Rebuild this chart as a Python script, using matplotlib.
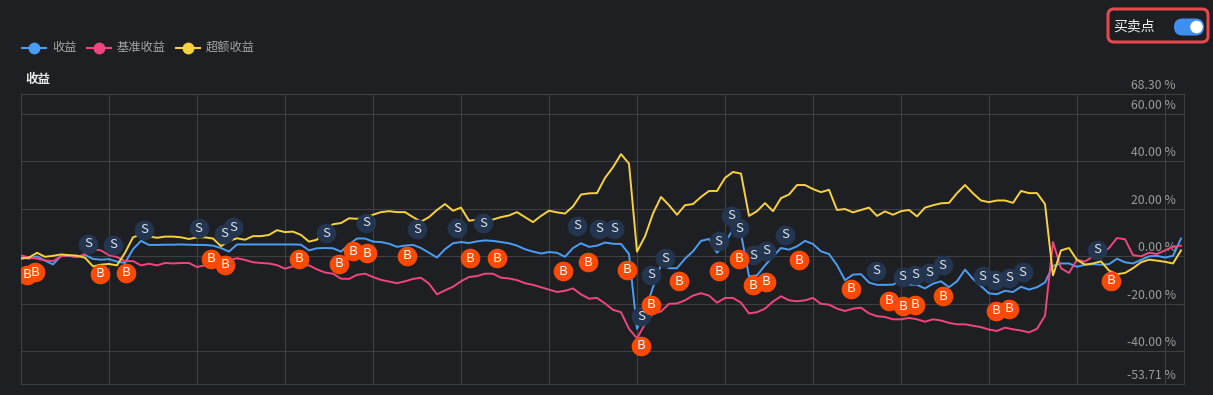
import numpy as np
import matplotlib
matplotlib.use("Agg")
import matplotlib.pyplot as plt
from matplotlib.patches import FancyBboxPatch, Circle
from matplotlib.lines import Line2D
from matplotlib.transforms import IdentityTransform

plt.rcParams['font.family'] = ['Noto Sans CJK SC', 'DejaVu Sans']

W, H = 1213, 395
BG = "#1e1f22"
GRID = "#3e3f43"
C_RET = "#4a9ef5"
C_BENCH = "#f0457e"
C_EXCESS = "#f7d23e"
C_BUY = "#fc4a04"
C_SELL = "#243550"

# 收益 (strategy return, %)
ret = [-0.3, -1.0, 0.0, -1.8, -3.4, 0.2, 0.2, -0.3, 0.6, -1.1,
       -1.4, -1.2, -2.2, -2.8, 3.0, 6.5, 4.8, 4.8, 4.9, 4.9,
       5.0, 4.9, 4.8, 4.8, 4.5, 3.5, 2.0, 5.0, 5.0, 5.0,
       5.0, 5.0, 5.0, 5.0, 5.0, 4.9, 2.5, 3.4, 3.5, 3.4,
       2.0, 5.0, 7.5, 7.5, 6.2, 6.0, 5.3, 4.0, 4.5, 4.8,
       3.5, 1.5, -0.5, 3.0, 5.5, 6.0, 5.6, 6.3, 6.7, 6.5,
       6.0, 5.5, 4.5, 3.0, 2.0, 1.2, 1.8, 1.5, -0.2, 3.5,
       5.5, 4.0, 4.5, 5.8, 5.3, 5.2, 1.0, -30.5, -23.0, -13.0,
       -3.5, -5.0, -5.0, -1.0, 2.1, 6.5, 7.3, 1.5, 5.0, 11.8,
       9.5, -8.4, -8.0, -3.8, 0.0, 3.5, 2.8, 4.2, 6.5, 5.2,
       2.1, 1.0, -3.7, -10.0, -7.7, -7.5, -11.0, -12.0, -12.0, -11.9,
       -10.0, -11.9, -12.0, -13.5, -11.5, -10.5, -13.0, -10.5, -5.6, -9.5,
       -12.5, -15.6, -15.9, -14.5, -15.0, -12.8, -14.0, -13.0, -11.0, -4.0,
       -3.0, -3.0, -4.4, -3.5, -3.3, -3.5, -3.3, -1.0, -2.5, -3.0,
       -1.5, 0.0, 0.2, -0.5, 0.2, 7.5]

# 基准收益 (benchmark, %)
bench = [0.4, -0.5, -1.0, -1.7, -2.0, 0.0, 0.4, -0.3, 1.0, 3.0,
         2.5, 0.5, -0.3, -2.0, -2.0, -3.8, -3.1, -3.8, -2.8, -3.0,
         -2.8, -2.8, -4.5, -3.8, -3.3, -2.5, -1.7, -0.8, -1.5, -2.5,
         -2.8, -3.0, -3.7, -5.2, -4.2, -3.8, -3.8, -5.5, -6.8, -7.3,
         -9.4, -9.5, -7.8, -7.3, -8.7, -9.9, -10.6, -11.3, -10.5, -9.5,
         -9.0, -11.5, -16.0, -14.3, -12.8, -10.5, -8.7, -8.3, -7.3, -7.3,
         -9.0, -9.3, -10.0, -11.3, -12.0, -13.0, -14.0, -15.0, -14.5, -13.5,
         -16.0, -17.8, -17.5, -19.8, -22.5, -23.5, -30.5, -34.5, -28.5, -24.0,
         -23.2, -20.0, -19.8, -18.5, -16.5, -15.5, -16.5, -19.5, -17.5, -17.5,
         -19.5, -24.0, -23.5, -22.0, -19.0, -16.8, -18.5, -18.9, -18.5, -17.5,
         -20.0, -20.3, -22.0, -23.0, -22.0, -21.6, -24.0, -25.2, -25.5, -26.5,
         -26.5, -25.9, -26.5, -27.5, -26.5, -27.0, -28.0, -28.6, -28.6, -29.2,
         -29.8, -30.8, -31.4, -30.0, -30.7, -31.2, -32.0, -30.5, -25.0, 6.0,
         -5.0, -7.0, -1.4, -2.2, 0.0, 1.0, 3.5, 7.7, 7.2, 0.5,
         0.0, 1.5, 1.0, 2.5, 4.0, 4.5]

# 超额收益 (excess, %)
excess = [-1.0, -0.5, 1.5, -0.2, 0.2, 0.8, 0.5, 0.3, -0.6, -4.2,
          -3.5, -3.2, -3.8, 1.5, 8.0, 9.2, 8.4, 7.8, 8.3, 8.3,
          8.0, 7.3, 8.0, 8.0, 7.5, 4.3, 6.5, 7.6, 7.0, 8.5,
          8.5, 9.0, 11.0, 10.2, 10.4, 9.0, 6.2, 7.0, 11.0, 13.5,
          14.0, 16.0, 15.8, 16.2, 17.5, 18.6, 19.0, 18.6, 18.6, 16.5,
          14.6, 16.5, 19.5, 22.0, 19.2, 20.5, 15.0, 15.4, 14.5, 15.5,
          16.5, 17.2, 18.6, 16.5, 14.4, 17.0, 19.2, 18.5, 18.0, 21.0,
          26.0, 26.5, 26.6, 33.0, 37.5, 43.0, 39.0, 2.0, 8.4, 18.0,
          25.0, 21.5, 17.5, 21.5, 22.0, 25.0, 27.5, 27.5, 33.0, 35.5,
          34.8, 17.0, 19.0, 22.4, 19.0, 24.5, 26.0, 30.0, 30.0, 28.3,
          27.0, 28.0, 19.5, 19.9, 18.5, 19.5, 20.5, 17.0, 18.9, 17.5,
          19.0, 19.5, 16.8, 20.5, 21.5, 22.3, 22.5, 26.6, 30.0, 26.5,
          23.5, 22.8, 23.5, 23.5, 22.5, 27.5, 26.6, 26.6, 22.0, -8.0,
          2.5, 3.5, -1.5, -3.5, -3.0, -2.1, -6.0, -7.5, -7.0, -5.0,
          -2.5, -1.4, -1.8, -2.3, -3.0, 2.5]

# 卖出点 S (index, %)
sell_x = [8.4, 11.5, 15.4, 22.2, 25.4, 26.5, 38.1, 43.1, 49.5, 54.5,
          57.8, 69.5, 72.3, 74.1, 77.5, 78.8, 80.5, 87.2, 88.8, 89.8,
          91.5, 93.1, 95.5, 106.9, 110.2, 111.8, 113.5, 115.2, 120.2, 121.8,
          123.5, 125.2, 134.5]
sell_y = [5.2, 4.8, 11.1, 11.9, 9.4, 12.3, 9.8, 14.1, 11.5, 11.9,
          14.0, 12.9, 11.6, 11.6, -25.2, -7.7, -0.7, 6.3, 17.1, 11.9,
          0.4, 2.4, 9.1, -6.0, -8.6, -7.7, -7.0, -3.8, -8.4, -9.8,
          -9.1, -6.7, 2.8]

# 买入点 B (index, %)
buy_x = [0.7, 1.8, 9.9, 13.1, 23.8, 25.5, 34.8, 39.8, 41.5, 43.2,
         48.2, 56.1, 59.5, 67.8, 70.9, 75.8, 77.5, 78.8, 82.2, 87.2,
         89.8, 91.5, 93.1, 97.2, 103.8, 108.5, 110.2, 111.8, 115.2, 121.9,
         123.5, 136.2]
buy_y = [-7.7, -6.7, -7.4, -7.0, -1.0, -3.5, -1.0, -3.2, 2.1, 1.4,
         0.3, -0.7, -0.7, -6.3, -2.4, -5.6, -37.7, -20.3, -10.5, -6.3,
         -1.0, -12.2, -10.7, -1.7, -13.7, -18.7, -21.0, -20.3, -16.8, -22.8,
         -22.1, -10.2]

Y_MIN, Y_MAX = -53.71, 68.30
y_labels = [68.30, 60, 40, 20, 0, -20, -40, -53.71]

fig = plt.figure(figsize=(W / 100, H / 100), dpi=100, facecolor=BG)
ax = fig.add_axes([21 / W, 11 / H, 1163 / W, 290 / H], facecolor=BG)

x = np.arange(len(ret))
ax.plot(x, ret, color=C_RET, lw=1.4, zorder=3)
ax.plot(x, bench, color=C_BENCH, lw=1.4, zorder=3)
ax.plot(x, excess, color=C_EXCESS, lw=1.4, zorder=3)

ax.set_xlim(0, 1163 / 8)
ax.set_ylim(Y_MIN, Y_MAX)
ax.set_xticks(np.arange(0, 144, 11))
ax.set_yticks([-40, -20, 0, 20, 40, 60])
ax.grid(True, color=GRID, lw=0.8)
ax.tick_params(length=0, labelleft=False, labelbottom=False)
for s in ax.spines.values():
    s.set_color(GRID)
    s.set_linewidth(0.8)

# y labels sit just above their line, at the right
for v in y_labels:
    ax.annotate(f"{v:.2f} %", xy=(1, v), xycoords=("axes fraction", "data"),
                xytext=(-6, 3.6), textcoords="offset points",
                ha="right", va="baseline", fontsize=8.8, color="#9b9b9b",
                annotation_clip=False, zorder=2)

# trade markers
ax.scatter(sell_x, sell_y, s=200, color=C_SELL, zorder=5, linewidths=0)
for sx, sy in zip(sell_x, sell_y):
    ax.text(sx, sy, "S", ha="center", va="center", fontsize=9.5,
            color="#dde3ea", zorder=6)
ax.scatter(buy_x, buy_y, s=200, color=C_BUY, zorder=7, linewidths=0)
for bx, by in zip(buy_x, buy_y):
    ax.text(bx, by, "B", ha="center", va="center", fontsize=9.5,
            color="#fff4ee", zorder=8)

# title + legend (pixel positions)
def fx(px):
    return px / W

def fy(py):
    return 1 - py / H

fig.text(fx(25), fy(79), "收益", fontsize=9, fontweight="bold",
         color="#e8e8e8", va="center", ha="left")

legend = [("收益", C_RET, 22), ("基准收益", C_BENCH, 87), ("超额收益", C_EXCESS, 176)]
for name, col, x0 in legend:
    fig.add_artist(Line2D([fx(x0), fx(x0 + 24)], [fy(48), fy(48)],
                          transform=fig.transFigure, color=col, lw=1.5))
    fig.add_artist(Line2D([fx(x0 + 12)], [fy(48)], transform=fig.transFigure,
                          marker="o", markersize=7.5, color=col, lw=0))
    fig.text(fx(x0 + 30), fy(48), name, fontsize=8.8, color="#a4a4a4",
             va="center", ha="left")

# 买卖点 toggle
idt = IdentityTransform()
fig.add_artist(FancyBboxPatch((1108, H - 42), 100, 33,
                              boxstyle="round,pad=0,rounding_size=6",
                              transform=idt, facecolor="none",
                              edgecolor="#e5484d", lw=2.2))
fig.text(fx(1113), fy(26), "买卖点", fontsize=10, color="#f0f0f0",
         va="center", ha="left")
fig.add_artist(FancyBboxPatch((1174, H - 35.5), 30, 17,
                              boxstyle="round,pad=0,rounding_size=8.5",
                              transform=idt, facecolor="#3f8ff0",
                              edgecolor="none"))
fig.add_artist(Circle((1196.5, H - 27), 6.3, transform=idt,
                      facecolor="white", edgecolor="none"))

fig.savefig("out.png", dpi=100, facecolor=BG)
